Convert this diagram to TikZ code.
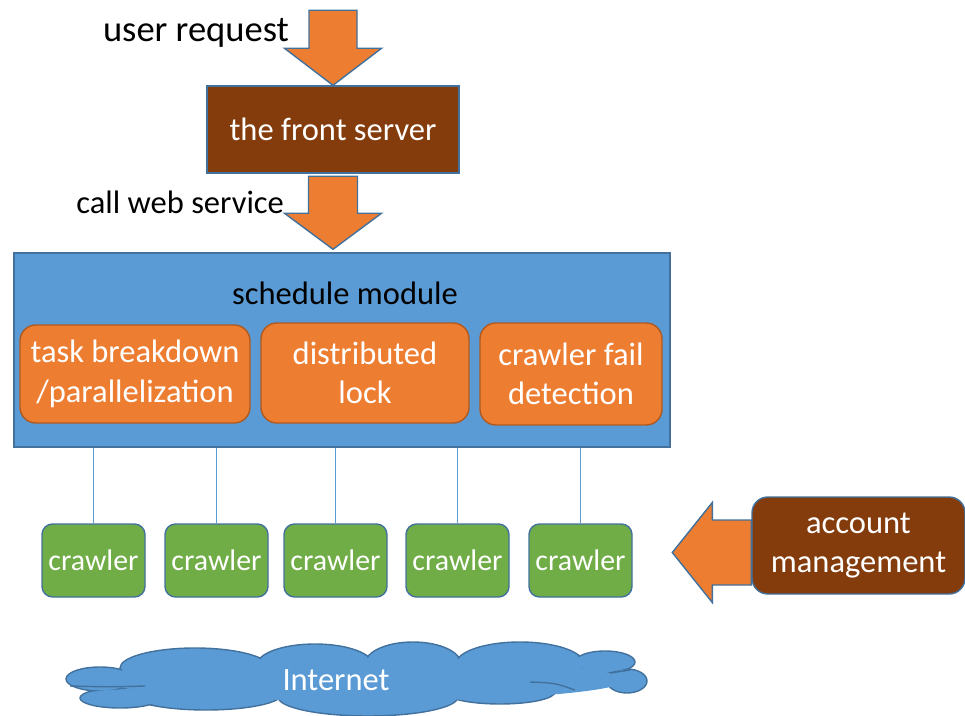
\documentclass[tikz,border=0pt]{standalone}
\usepackage{fontspec}
\setmainfont{Carlito}
\usetikzlibrary{positioning,calc}

\definecolor{pptblue}{HTML}{5B9BD5}
\definecolor{pptline}{HTML}{41719C}
\definecolor{pptorange}{HTML}{ED7D31}
\definecolor{pptorline}{HTML}{AE5A21}
\definecolor{pptbrown}{HTML}{843C0C}
\definecolor{pptgreen}{HTML}{70AD47}

\tikzset{
	every node/.style={align=center, inner sep=1pt, font=\fontsize{18.5}{22.5}\selectfont},
	barrow/.style={fill=pptorange, draw=pptline, line width=0.8pt, line join=miter},
	srvbox/.style={fill=pptbrown, draw=pptline, line width=0.8pt, text=white},
	modbox/.style={fill=pptorange, draw=pptorline, line width=0.8pt, rounded corners=9pt, text=white},
	crawl/.style={fill=pptgreen, draw=pptline, line width=0.8pt, rounded corners=6pt, text=white,
		minimum width=2.06cm, minimum height=1.46cm, font=\fontsize{17}{20}\selectfont},
	link/.style={draw=pptblue, line width=0.5pt},
}

\begin{document}
\begin{tikzpicture}
	\useasboundingbox (0,0) rectangle (19.3,-14.32);

	\node[srvbox, minimum width=5.04cm, minimum height=1.74cm] (front) at (6.66, -2.59) {the front server};
	\node[fill=pptblue, draw=pptline, line width=0.8pt, minimum width=13.12cm, minimum height=3.88cm] (sched) at (6.84, -7.0) {};
	\node (schedlbl) at (6.9, -5.86) {schedule module};
	\node[modbox, minimum width=4.6cm, minimum height=1.96cm] (task) at (2.7, -7.48) {task breakdown\\/parallelization};
	\node[modbox, minimum width=4.16cm, minimum height=2.0cm] (lock) at (7.3, -7.46) {distributed\\lock};
	\node[modbox, minimum width=3.64cm, minimum height=2.04cm] (fail) at (11.42, -7.48) {crawler fail\\detection};

	\foreach \i/\x in {1/1.87, 2/4.33, 3/6.71, 4/9.15, 5/11.61} {
		\node[crawl] (c\i) at (\x, -11.21) {crawler};
		\draw[link] (c\i.north) -- (c\i.north |- sched.south);
	}

	\node[srvbox, rounded corners=9pt, minimum width=4.26cm, minimum height=1.94cm] (acct) at (17.17, -10.91) {account\\management};

	% cloud: puffs drawn, then filled again to hide inner edges
	\foreach \cx/\cy/\rx/\ry in {3.9/-13.36/1.5/0.4, 6.3/-13.3/1.16/0.42, 8.26/-13.28/0.96/0.44,
		10.4/-13.28/1.28/0.44, 12.1/-13.24/0.6/0.22, 12.54/-13.62/0.4/0.24, 10.0/-13.84/1.1/0.24,
		7.36/-13.94/1.8/0.38, 4.12/-13.88/1.52/0.32, 2.4/-13.96/0.8/0.2, 2.0/-13.58/0.68/0.24}
		\draw[fill=pptblue, draw=pptline, line width=0.8pt] (\cx, \cy) ellipse ({\rx} and {\ry});
	\foreach \cx/\cy/\rx/\ry in {3.9/-13.36/1.5/0.4, 6.3/-13.3/1.16/0.42, 8.26/-13.28/0.96/0.44,
		10.4/-13.28/1.28/0.44, 12.1/-13.24/0.6/0.22, 12.54/-13.62/0.4/0.24, 10.0/-13.84/1.1/0.24,
		7.36/-13.94/1.8/0.38, 4.12/-13.88/1.52/0.32, 2.4/-13.96/0.8/0.2, 2.0/-13.58/0.68/0.24}
		\fill[pptblue] (\cx, \cy) ellipse ({\rx-0.03} and {\ry-0.03});
	\fill[pptblue] (7.3, -13.6) ellipse (5.2 and 0.42);
	\draw[pptline, line width=0.8pt] (1.4, -13.72) .. controls (2.2, -13.74) .. (2.9, -13.72);
	\draw[pptline, line width=0.8pt] (10.6, -13.64) .. controls (11.1, -13.66) .. (11.5, -13.8);
	\draw[pptline, line width=0.8pt] (12.2, -13.46) .. controls (12.4, -13.44) .. (12.6, -13.4);
	\node[text=white] (net) at (6.72, -13.6) {Internet};

	% block arrows
	\coordinate (tip1) at (front.north);
	\draw[barrow] (tip1) -- ++(0.97, 0.74) -- ++(-0.49, 0) -- ++(0, 0.76) -- ++(-0.96, 0)
		-- ++(0, -0.76) -- ++(-0.49, 0) -- cycle;
	\node[anchor=east, font=\fontsize{20.8}{24}\selectfont] (req) at (5.82, -0.66) {user request};

	\coordinate (tip2) at ($(front.south |- sched.north)+(0, 0.06)$);
	\draw[barrow] (tip2) -- ++(0.97, 0.72) -- ++(-0.48, 0) -- ++(0, 0.74) -- ++(-0.98, 0)
		-- ++(0, -0.74) -- ++(-0.48, 0) -- cycle;
	\node[anchor=east] (call) at (5.72, -4.04) {call web service};

	\coordinate (tip3) at ($(acct.west)+(-1.58, -0.14)$);
	\draw[barrow] (tip3) -- ++(0.8, 1.0) -- ++(0, -0.35) -- ++(0.78, 0) -- ++(0, -1.3)
		-- ++(-0.78, 0) -- ++(0, -0.35) -- cycle;

\end{tikzpicture}
\end{document}
